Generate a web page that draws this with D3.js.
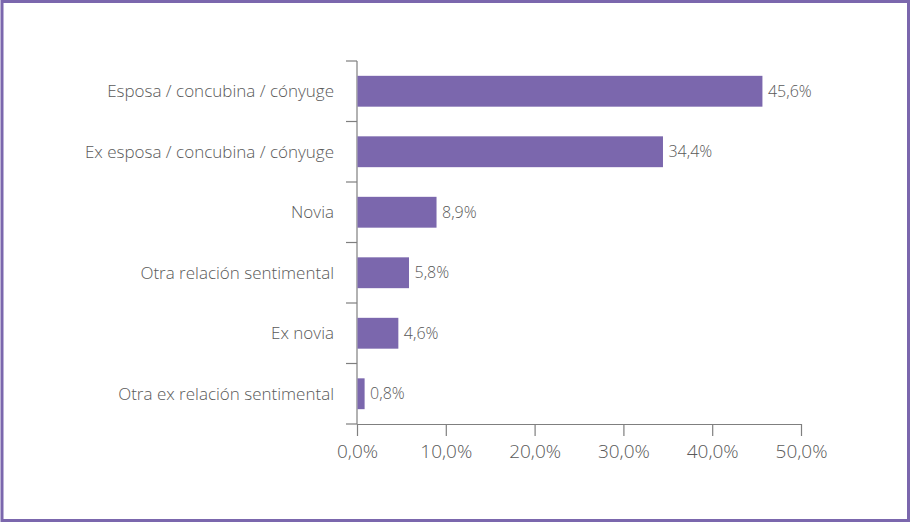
<!doctype html>
<html lang="es">
<head>
    <meta charset="UTF-8">
    <title>Relación con la víctima</title>
    <script src="https://d3js.org/d3.v7.min.js"></script>
    <style>
        body { margin: 0; background: #fff; }
        svg { display: block; font-family: "Open Sans", "DejaVu Sans", sans-serif; }
    </style>
</head>
<body>
<script>
    var width = 911;
    var height = 522;

    // datos
    var categorias = [
        'Esposa / concubina / cónyuge',
        'Ex esposa / concubina / cónyuge',
        'Novia',
        'Otra relación sentimental',
        'Ex novia',
        'Otra ex relación sentimental'
    ];
    var valores = [45.6, 34.4, 8.9, 5.8, 4.6, 0.8];
    var ticksX = [0, 10, 20, 30, 40, 50];

    var morado = '#7b67ad';
    var gris = '#595959';
    var top0 = 61, bot0 = 424;

    var svg = d3.select('body').append('svg')
        .attr('width', width)
        .attr('height', height);

    // marco
    svg.append('rect')
        .attr('x', 2).attr('y', 1.5)
        .attr('width', width - 4.5).attr('height', height - 3)
        .attr('fill', 'none')
        .attr('stroke', morado)
        .attr('stroke-width', 3);

    var x = d3.scaleLinear().domain([0, 50]).range([357, 801]);
    var y = d3.scaleBand().domain(categorias).range([top0, bot0]).paddingInner(0.49).paddingOuter(0.245);

    var fmt = function(v) { return d3.format('.1f')(v).replace('.', ',') + '%'; };

    // eje y con marcas entre categorias
    var yTicks = d3.range(categorias.length + 1).map(function(i) { return top0 + i * y.step(); });
    svg.append('line')
        .attr('x1', x(0)).attr('x2', x(0))
        .attr('y1', top0).attr('y2', bot0)
        .attr('stroke', '#7f7f7f').attr('stroke-width', 1.2);
    svg.selectAll('.ytick').data(yTicks).enter().append('line')
        .attr('class', 'ytick')
        .attr('x1', x(0) - 11).attr('x2', x(0))
        .attr('y1', function(d) { return d; }).attr('y2', function(d) { return d; })
        .attr('stroke', '#7f7f7f').attr('stroke-width', 1.2);

    // eje x
    var xAxis = d3.axisBottom(x).tickValues(ticksX).tickSize(12).tickSizeOuter(0).tickFormat(fmt);
    var gx = svg.append('g')
        .attr('transform', 'translate(0,' + bot0 + ')')
        .call(xAxis);
    gx.select('.domain').attr('stroke', '#7f7f7f').attr('stroke-width', 1.2);
    gx.selectAll('.tick line').attr('stroke', '#7f7f7f').attr('stroke-width', 1.2);
    gx.selectAll('.tick text')
        .attr('y', 21)
        .attr('fill', gris)
        .style('font-size', '19px')
        .style('font-weight', 300)
        .style('font-family', '"Open Sans", sans-serif');

    // barras
    svg.selectAll('.bar').data(valores).enter().append('rect')
        .attr('class', 'bar')
        .attr('x', x(0) + 0.5)
        .attr('y', function(d, i) { return y(categorias[i]); })
        .attr('width', function(d) { return x(d) - x(0); })
        .attr('height', y.bandwidth())
        .attr('fill', morado);

    // etiquetas de valor
    svg.selectAll('.val').data(valores).enter().append('text')
        .attr('class', 'val')
        .attr('x', function(d) { return x(d) + 6; })
        .attr('y', function(d, i) { return y(categorias[i]) + y.bandwidth() / 2; })
        .attr('dy', '0.35em')
        .attr('fill', gris)
        .style('font-size', '16px')
        .style('font-weight', 300)
        .text(fmt);

    // etiquetas de categoria
    svg.selectAll('.cat').data(categorias).enter().append('text')
        .attr('class', 'cat')
        .attr('x', 334)
        .attr('y', function(d) { return y(d) + y.bandwidth() / 2; })
        .attr('dy', '0.35em')
        .attr('text-anchor', 'end')
        .attr('fill', gris)
        .style('font-size', '17px')
        .style('font-weight', 300)
        .text(function(d) { return d; });
</script>
</body>
</html>
